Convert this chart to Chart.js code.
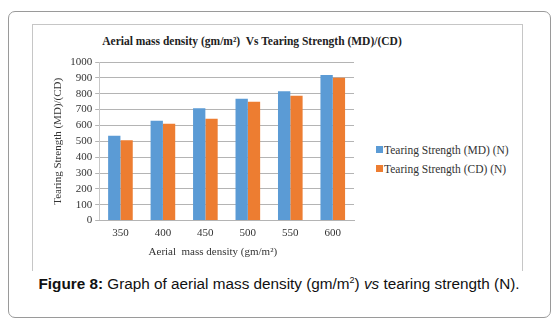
<!DOCTYPE html>
<html>
<head>
<meta charset="utf-8">
<script src="https://cdn.jsdelivr.net/npm/chart.js@4.4.0/dist/chart.umd.min.js"></script>
<style>
    body { margin: 0; background: #fff; width: 558px; height: 329px; position: relative; overflow: hidden; }
    #frame { position: absolute; left: 8px; top: 11px; width: 541px; height: 305px; border: 1px solid #9a9a9a; border-radius: 7px; }
    #panel { position: absolute; left: 32px; top: 24px; width: 489px; height: 246px; border: 1px solid #c6c6c6; border-bottom: none; }
    #title { position: absolute; left: 32px; width: 440px; top: 35px; text-align: center; font: bold 11.5px "Liberation Serif", "DejaVu Serif", serif; color: #222; white-space: pre; }
    #chartBox { position: absolute; left: 32px; top: 24px; width: 330px; height: 246px; }
    #legend { position: absolute; left: 376px; top: 140px; font: 11.5px "Liberation Serif", "DejaVu Serif", serif; color: #333; }
    #legend div { height: 19px; display: flex; align-items: center; }
    #legend span.sw { display: inline-block; width: 7px; height: 7px; margin-right: 1px; }
    #caption { position: absolute; left: 0; width: 558px; top: 275px; text-align: center; font: 15.3px "Liberation Sans", Arial, sans-serif; color: #111; }
    #caption sup { font-size: 9px; }
</style>
</head>
<body>
<div id="frame"></div>
<div id="panel"></div>
<div id="title">Aerial mass density (gm/m²)  Vs Tearing Strength (MD)/(CD)</div>
<div id="chartBox"><canvas id="tearChart"></canvas></div>
<div id="legend"></div>
<div id="caption"><b>Figure 8:</b> Graph of aerial mass density (gm/m<sup>2</sup>) <i>vs</i> tearing strength (N).</div>
<script>
// Values
const densities = ['350', '400', '450', '500', '550', '600'];
const tearingMD = [535, 630, 708, 768, 815, 918];
const tearingCD = [507, 610, 642, 750, 787, 900];
const seriesNames = ['Tearing Strength (MD) (N)', 'Tearing Strength (CD) (N)'];
const seriesColors = ['#5b9bd5', '#ed7d31'];

const serif = '"Liberation Serif", "DejaVu Serif", serif';

document.addEventListener('DOMContentLoaded', function() {
    const ctx = document.getElementById('tearChart').getContext('2d');
    new Chart(ctx, {
        type: 'bar',
        data: {
            labels: densities,
            datasets: [
                { label: seriesNames[0], data: tearingMD, backgroundColor: seriesColors[0] },
                { label: seriesNames[1], data: tearingCD, backgroundColor: seriesColors[1] }
            ]
        },
        options: {
            responsive: true,
            maintainAspectRatio: false,
            animation: false,
            layout: { padding: { left: 18, right: 8, top: 38, bottom: 11 } },
            datasets: { bar: { categoryPercentage: 0.58, barPercentage: 1.0 } },
            plugins: {
                legend: { display: false },
                tooltip: { enabled: false }
            },
            scales: {
                y: {
                    min: 0,
                    max: 1000,
                    ticks: {
                        stepSize: 100,
                        autoSkip: false,
                        color: '#333',
                        font: { family: serif, size: 11 },
                        padding: 3,
                        callback: value => value
                    },
                    grid: { color: '#b4b4b4', tickLength: 4 },
                    border: { color: '#c8c8c8' },
                    title: { display: true, text: 'Tearing Strength (MD)/(CD)', color: '#333', font: { family: serif, size: 11 }, padding: 2 }
                },
                x: {
                    ticks: { color: '#333', font: { family: serif, size: 11 }, padding: 6 },
                    grid: { display: false, drawTicks: false },
                    border: { color: '#b4b4b4' },
                    title: {
                        display: true,
                        // trailing spaces push the title left like the original
                        text: 'Aerial  mass density (gm/m²)          ',
                        color: '#333',
                        font: { family: serif, size: 11 },
                        padding: { top: 0, bottom: 0 }
                    }
                }
            }
        }
    });

    // Legend on the right, built from the series arrays
    const legend = document.getElementById('legend');
    seriesNames.forEach((name, i) => {
        const row = document.createElement('div');
        row.innerHTML = `<span class="sw" style="background:${seriesColors[i]}"></span>${name}`;
        legend.appendChild(row);
    });
});
</script>
</body>
</html>
